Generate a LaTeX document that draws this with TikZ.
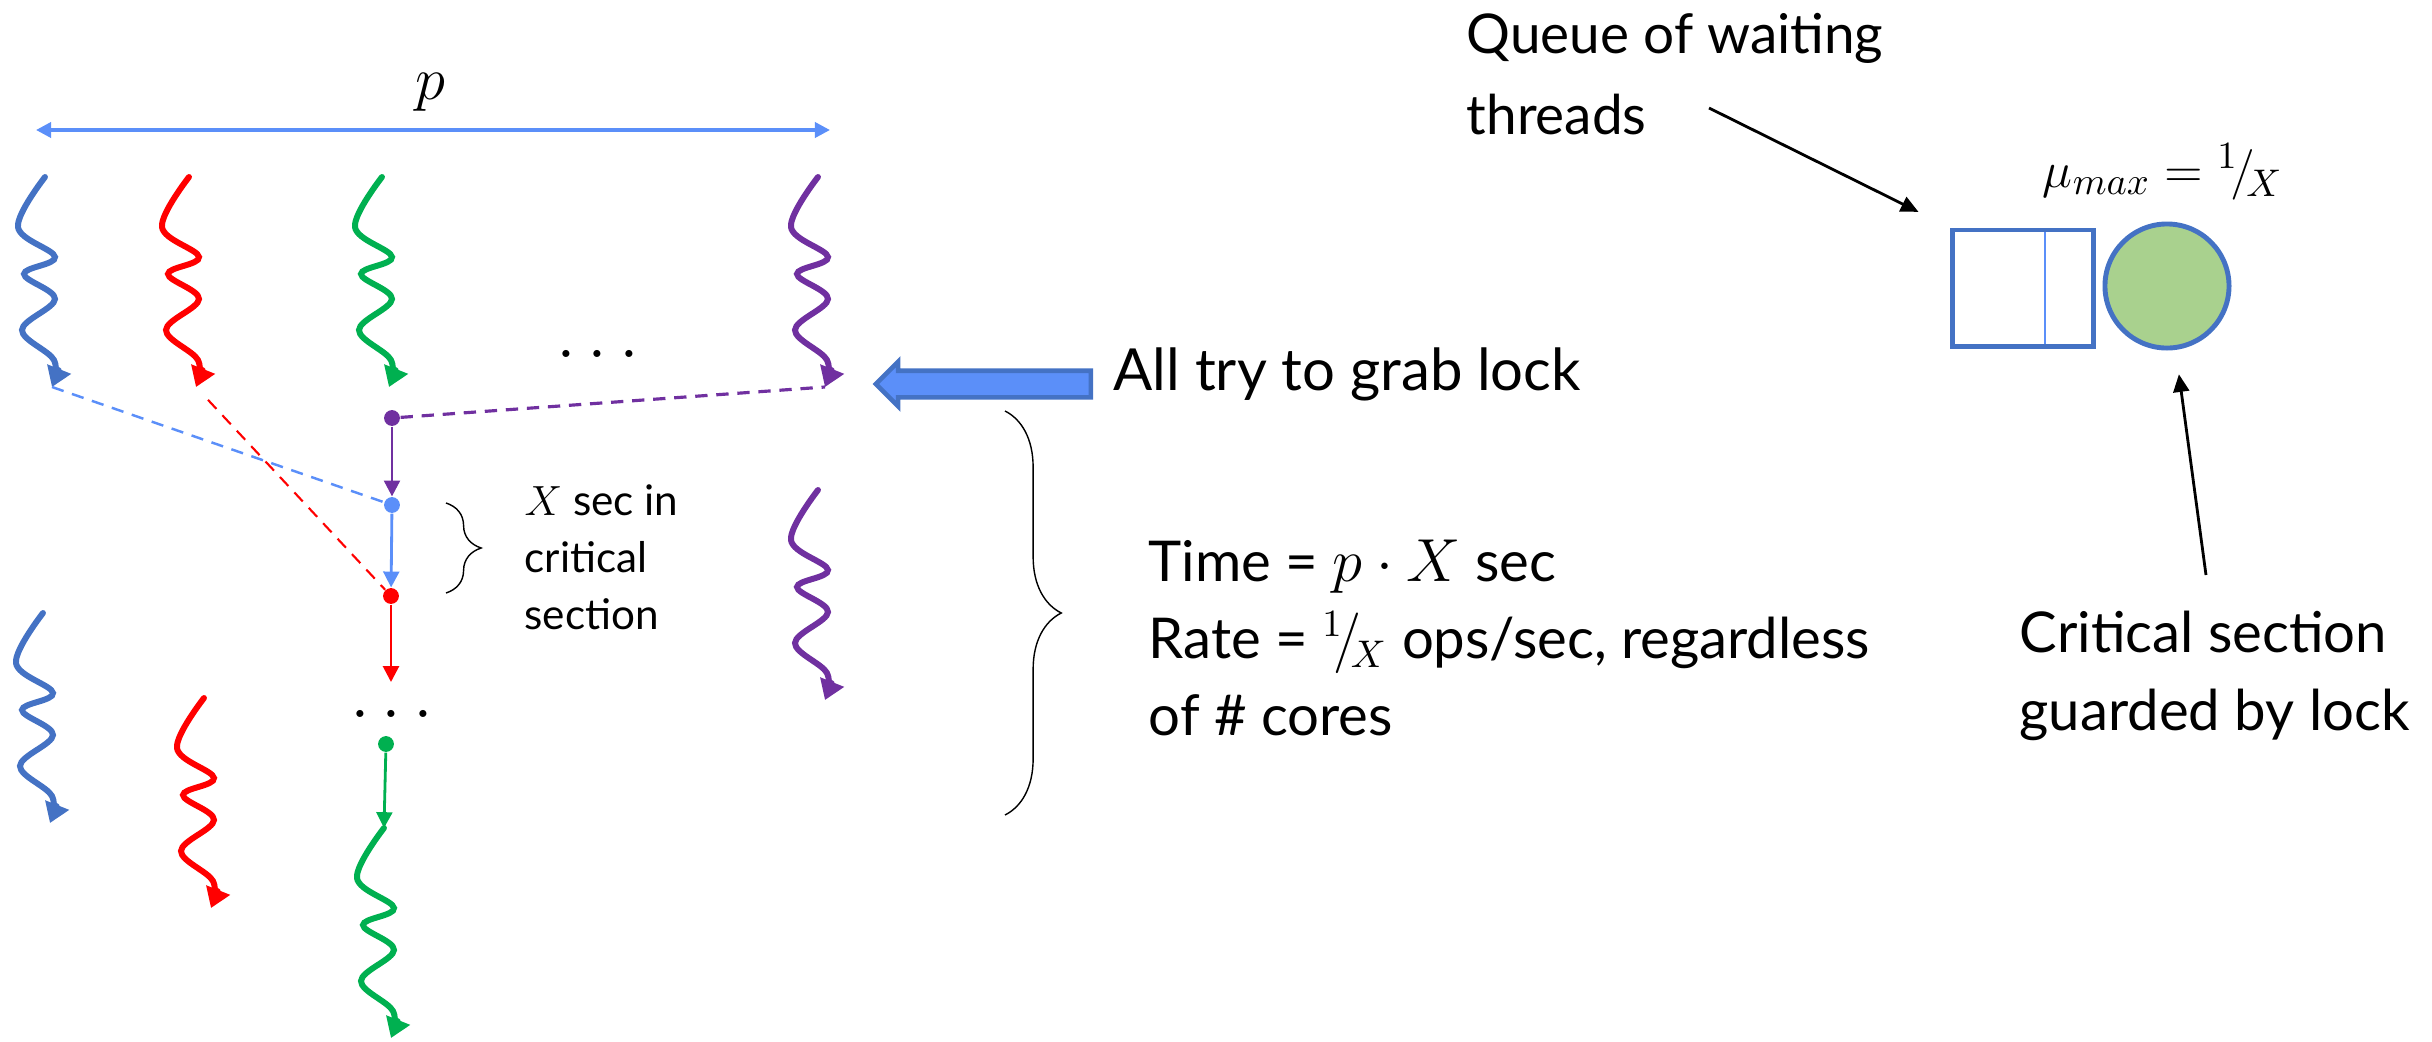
\documentclass[tikz,border=0pt]{standalone}
\usepackage{amsmath}
\usepackage{fontspec}
\setmainfont{Lato}
\usepackage{tikz}
\usetikzlibrary{arrows.meta,decorations.pathreplacing,shapes.arrows,positioning}
\definecolor{thrblue}{HTML}{4472C4}
\definecolor{thrred}{HTML}{FF0000}
\definecolor{thrgreen}{HTML}{00B050}
\definecolor{thrpurple}{HTML}{7030A0}
\definecolor{lockblue}{HTML}{5B8FF9}
\definecolor{csgreen}{HTML}{A9D18E}

\tikzset{
  wave/.style={line width=1.7pt, line cap=round, -{Triangle[width=7pt,length=5.5pt]}},
  thread/.pic={
    \draw[wave] plot[smooth, tension=0.6] coordinates
      {(0,0) (-27,50) (10,80) (-21,97) (10,122) (-23,153) (9,183) (7,210)};
    \coordinate (-top) at (0,0);
    \coordinate (-tip) at (7,210);
  },
  hop/.style={line width=0.8pt, -{Triangle[width=4.5pt,length=4.5pt]}},
  waitline/.style={line width=0.7pt, dash pattern=on 3.5pt off 2.5pt},
  grabdot/.style={circle, inner sep=0pt, minimum size=4.5pt},
  spanline/.style={lockblue, line width=1pt, {Triangle[width=4.3pt,length=4.3pt]}-{Triangle[width=4.3pt,length=4.3pt]}},
  ptr/.style={line width=0.8pt, -{Triangle[width=4.5pt,length=5pt]}},
  grabarrow/.style={single arrow, shape border rotate=180, draw=thrblue, fill=lockblue,
    line width=1.3pt, inner xsep=0pt, inner ysep=0.11cm, single arrow head extend=0.09cm,
    minimum height=2.15cm},
  lbl/.style 2 args={font=\fontsize{#1}{#2}\selectfont, align=left, inner sep=0pt}
}

\begin{document}
\begin{tikzpicture}[x=0.01cm, y=-0.01cm]
    \useasboundingbox (0,0) rectangle (2432,1042);

    \coordinate (pl) at (36,130);
    \coordinate (pr) at (830,130);
    \draw[spanline] (pl) -- (pr);
    \node[font=\fontsize{18}{20}\selectfont] (plbl) at (430,92) {$p$};

    \pic[thrblue] (tb1) at (45,177) {thread};
    \pic[thrred] (tr1) at (189,177) {thread};
    \pic[thrgreen] (tg1) at (382,177) {thread};
    \pic[thrpurple] (tp1) at (818,177) {thread};
    \node[font=\fontsize{20}{22}\selectfont] (moredots) at (598,354) {$\ldots$};

    \pic[thrpurple] (tp2) at (818,490) {thread};
    \pic[thrblue] (tb2) at (43,613) {thread};
    \pic[thrred] (tr2) at (204,698) {thread};
    \pic[thrgreen] (tg2) at (384,828) {thread};

    \node[grabdot, fill=thrpurple] (dpurple) at (392,418) {};
    \node[grabdot, fill=lockblue] (dblue) at (392,505) {};
    \node[grabdot, fill=thrred] (dred) at (391,596) {};
    \coordinate (redend) at (391,682);
    \node[font=\fontsize{20}{22}\selectfont] (lockdots) at (392,714) {$\ldots$};
    \node[grabdot, fill=thrgreen] (dgreen) at (386,744) {};

    \draw[hop, thrpurple] (dpurple) -- (dblue);
    \draw[hop, lockblue] (dblue) -- (dred);
    \draw[hop, thrred] (dred) -- (redend);
    \draw[hop, thrgreen] (dgreen) -- (tg2-top);

    \draw[waitline, lockblue] (tb1-tip) -- (dblue);
    \draw[waitline, thrred, line width=0.6pt, shorten <=5pt] (tr1-tip) -- (dred);
    \draw[waitline, thrpurple, line width=0.9pt] (dpurple) -- (tp1-tip);

    \draw[decorate, decoration={brace, amplitude=10pt}] (446,503) -- (446,593);
    \node[lbl={12}{16.2}, anchor=base west] (xsec) at (524,629) {$X$ sec in\\critical\\section};

    \node[grabarrow] (grab) at (990,384) {};
    \node[lbl={16.5}{20}, anchor=base west] (grabtxt) at (1113,390) {All try to grab lock};

    \draw[decorate, decoration={brace, amplitude=16pt}] (1005,411) -- (1005,815);
    \node[lbl={16}{21.8}, anchor=base west] (cost) at (1148,735)
      {Time = $p\cdot X$ sec\\
       Rate = ${}^{1}\!/\!{}_{X}$ ops/sec, regardless\\
       of \# cores};

    \node[lbl={15.6}{23}, anchor=north east] (qtxt) at (1884,13) {Queue of waiting\\threads};
    \coordinate (qtail) at (1709,108);
    \node[draw=thrblue, line width=1.4pt, minimum width=1.41cm, minimum height=1.16cm] (queue) at (2023,288) {};
    \draw[lockblue, line width=0.5pt] (2045,232) -- (2045,344);
    \node[circle, draw=thrblue, fill=csgreen, line width=1.4pt, minimum size=1.24cm] (server) at (2167,286) {};
    \node[font=\fontsize{15}{18}\selectfont] (mu) at (2163,172) {$\mu_{max} = {}^{1}\!/\!{}_{X}$};
    \draw[ptr, shorten >=10pt] (qtail) -- (queue.north west);

    \coordinate (cstail) at (2206,575);
    \draw[ptr, shorten >=7pt] (cstail) -- (server);
    \node[lbl={16}{22}, anchor=base west] (cstxt) at (2019,730) {Critical section\\guarded by lock};
\end{tikzpicture}
\end{document}
